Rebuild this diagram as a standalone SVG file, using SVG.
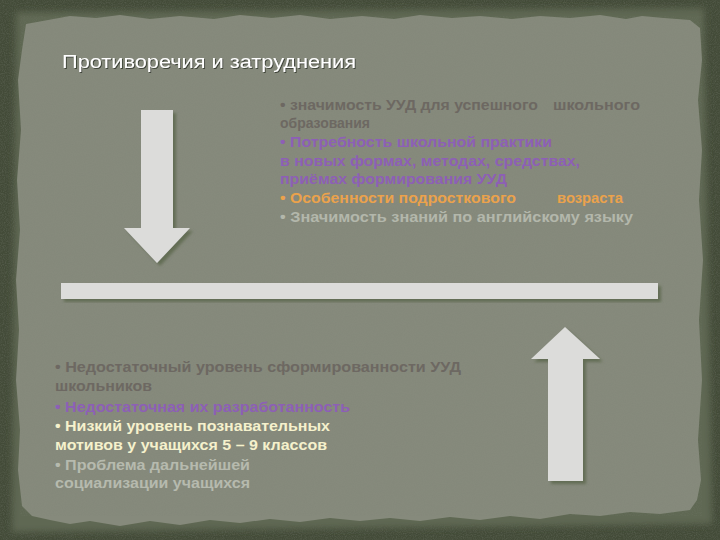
<svg xmlns="http://www.w3.org/2000/svg" width="720" height="540" viewBox="0 0 720 540">
  <defs>
    <filter id="noise" x="0" y="0" width="100%" height="100%">
      <feTurbulence type="fractalNoise" baseFrequency="0.9" numOctaves="2" seed="3" result="n"/>
      <feColorMatrix type="matrix" values="0 0 0 0 0.2  0 0 0 0 0.22  0 0 0 0 0.18  0 0 0 -1.2 0.75"/>
    </filter>
    <filter id="shadow" x="-20%" y="-20%" width="140%" height="140%">
      <feGaussianBlur in="SourceAlpha" stdDeviation="1.5" result="b"/>
      <feOffset in="b" dx="3" dy="3" result="o"/>
      <feFlood flood-color="#5f6a50" flood-opacity="0.9"/>
      <feComposite in2="o" operator="in" result="s"/>
      <feMerge><feMergeNode in="s"/><feMergeNode in="SourceGraphic"/></feMerge>
    </filter>
    <filter id="tshadow" x="-5%" y="-30%" width="110%" height="160%">
      <feOffset in="SourceAlpha" dx="1" dy="1" result="o"/>
      <feFlood flood-color="#2f352a" flood-opacity="0.8"/>
      <feComposite in2="o" operator="in" result="s"/>
      <feMerge><feMergeNode in="s"/><feMergeNode in="SourceGraphic"/></feMerge>
    </filter>
    <filter id="edge" x="-5%" y="-5%" width="110%" height="110%">
      <feGaussianBlur stdDeviation="3"/>
    </filter>
  </defs>
  <style>
    .t { font-family: "Liberation Sans", Arial, sans-serif; font-weight: bold; font-size: 14px; white-space: pre; }
    .dk { fill: #6d6862; }
    .pu { fill: #8d5fb6; }
    .or { fill: #eba24c; }
    .lg { fill: #b3b7ab; }
    .yw { fill: #f5f1cc; }
    .gr { fill: #b6baae; }
    .shape { fill: #dcdcda; filter: url(#shadow); }
  </style>

  <g id="background">
    <rect x="0" y="0" width="720" height="540" fill="#434b38"/>
    <rect x="0" y="0" width="720" height="540" filter="url(#noise)" opacity="0.5"/>
    <path filter="url(#edge)" fill="#5e6752" d="M16,12 L704,8 L712,524 L12,532 Z"/>
    <path id="paper" fill="#868a7c" d="M26,24 L48,20 L70,16 L96,18 L120,15 L150,19 L180,16 L214,19 L240,15 L272,18 L300,15 L330,19 L362,16 L394,19 L420,15 L452,18 L480,16 L512,19 L540,16 L570,18 L600,15 L626,19 L642,16 L664,18 L690,20 L700,28 L702,60 L698,100 L702,150 L699,200 L703,260 L699,320 L702,380 L698,440 L701,480 L697,500 L690,510 L660,514 L630,512 L600,516 L570,514 L540,519 L510,516 L480,520 L450,517 L420,521 L390,518 L360,521 L330,518 L300,522 L270,519 L240,523 L210,520 L180,525 L150,521 L120,526 L90,521 L70,524 L50,520 L32,516 L22,506 L18,470 L20,430 L16,380 L19,330 L16,280 L20,230 L17,180 L21,130 L18,80 L22,50 Z"/>
    <path fill="#868a7c" filter="url(#noise)" opacity="0.35" d="M26,24 L700,16 L702,510 L20,516 Z"/>
  </g>

  <g id="title">
    <text x="62" y="68" font-family="'Liberation Sans', Arial, sans-serif" font-size="18" fill="#ffffff" textLength="294" lengthAdjust="spacingAndGlyphs" filter="url(#tshadow)">Противоречия и затруднения</text>
  </g>

  <g id="arrow-down">
    <polygon class="shape" points="141,110 173,110 173,228 190,228 157,263 124,228 141,228"/>
  </g>

  <g id="arrow-up">
    <polygon class="shape" points="565,327 600,359 583,359 583,481 548,481 548,359 531,359"/>
  </g>

  <g id="bar">
    <rect class="shape" x="61" y="283" width="597" height="16"/>
  </g>

  <g id="top-text">
    <text class="t dk" x="280" y="110" textLength="258" lengthAdjust="spacingAndGlyphs">• значимость УУД для успешного</text>
    <text class="t dk" x="553" y="110" textLength="87" lengthAdjust="spacingAndGlyphs">школьного</text>
    <text class="t dk" x="280" y="128" textLength="90" lengthAdjust="spacingAndGlyphs">образования</text>
    <text class="t pu" x="280" y="147" textLength="272" lengthAdjust="spacingAndGlyphs">• Потребность школьной практики</text>
    <text class="t pu" x="280" y="166" textLength="300" lengthAdjust="spacingAndGlyphs">в новых формах, методах, средствах,</text>
    <text class="t pu" x="280" y="184" textLength="227" lengthAdjust="spacingAndGlyphs">приёмах формирования УУД</text>
    <text class="t or" x="280" y="203" textLength="236" lengthAdjust="spacingAndGlyphs">• Особенности подросткового</text>
    <text class="t or" x="557" y="203" textLength="66" lengthAdjust="spacingAndGlyphs">возраста</text>
    <text class="t lg" x="280" y="222" textLength="353" lengthAdjust="spacingAndGlyphs">• Значимость знаний по английскому языку</text>
  </g>

  <g id="bottom-text">
    <text class="t dk" x="55" y="372" textLength="406" lengthAdjust="spacingAndGlyphs">• Недостаточный уровень сформированности УУД</text>
    <text class="t dk" x="55" y="391" textLength="97" lengthAdjust="spacingAndGlyphs">школьников</text>
    <text class="t pu" x="55" y="412" textLength="295" lengthAdjust="spacingAndGlyphs">• Недостаточная их разработанность</text>
    <text class="t yw" x="55" y="431" textLength="275" lengthAdjust="spacingAndGlyphs">• Низкий уровень познавательных</text>
    <text class="t yw" x="55" y="450" textLength="272" lengthAdjust="spacingAndGlyphs">мотивов у учащихся 5 – 9 классов</text>
    <text class="t gr" x="55" y="470" textLength="195" lengthAdjust="spacingAndGlyphs">• Проблема дальнейшей</text>
    <text class="t gr" x="55" y="488" textLength="195" lengthAdjust="spacingAndGlyphs">социализации учащихся</text>
  </g>
</svg>
